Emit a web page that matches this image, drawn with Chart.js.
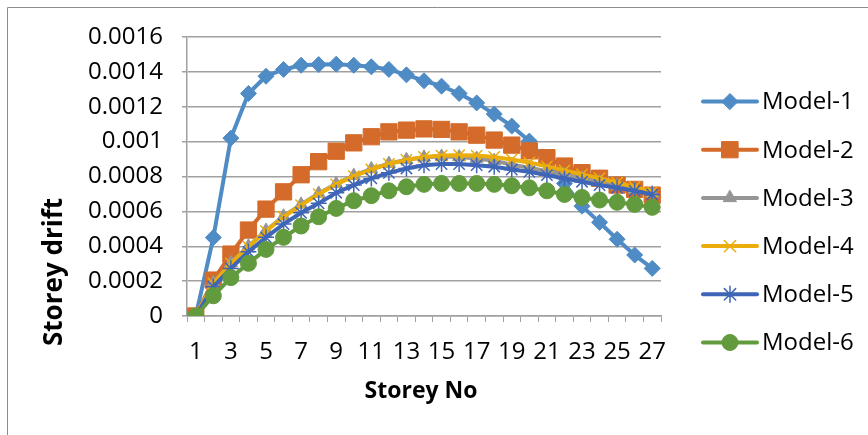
<!DOCTYPE html>
<html>
<head>
<meta charset="utf-8">
<script src="https://cdn.jsdelivr.net/npm/chart.js@4.4.1/dist/chart.umd.min.js"></script>
<style>
  html, body { margin: 0; padding: 0; background: #ffffff; }
  #wrap { position: relative; width: 868px; height: 435px; }
</style>
</head>
<body>
<div id="wrap"><canvas id="c" width="868" height="435"></canvas></div>
<script>
const storeys = ['1','2','3','4','5','6','7','8','9','10','11','12','13','14','15','16','17','18','19','20','21','22','23','24','25','26','27'];

const model1 = [0, 0.00045, 0.00102, 0.001276, 0.001375, 0.001414, 0.001438, 0.001442, 0.001444, 0.001438, 0.001429, 0.001414, 0.001383, 0.001349, 0.001318, 0.001276, 0.001222, 0.001158, 0.001089, 0.001003, 0.00088, 0.00076, 0.00063, 0.000537, 0.00044, 0.00035, 0.000273];
const model2 = [0, 0.000206, 0.000355, 0.000493, 0.000613, 0.000712, 0.00081, 0.000885, 0.000945, 0.000993, 0.001028, 0.001056, 0.001066, 0.001073, 0.00107, 0.001056, 0.001037, 0.001009, 0.00098, 0.000947, 0.000908, 0.00086, 0.000822, 0.00079, 0.000751, 0.000726, 0.000693];
const model3 = [0, 0.00019, 0.000305, 0.0004, 0.00049, 0.000572, 0.00064, 0.000703, 0.000758, 0.000805, 0.000843, 0.000874, 0.000896, 0.00091, 0.000915, 0.000912, 0.000903, 0.00089, 0.000868, 0.00085, 0.00083, 0.00081, 0.00079, 0.00077, 0.000748, 0.000725, 0.000705];
const model4 = [0, 0.000187, 0.000302, 0.000397, 0.000487, 0.000569, 0.000636, 0.000699, 0.000755, 0.000802, 0.00084, 0.000872, 0.000895, 0.000912, 0.00092, 0.000922, 0.00092, 0.000912, 0.000898, 0.00088, 0.000858, 0.000835, 0.000812, 0.00079, 0.000765, 0.00074, 0.000712];
const model5 = [0, 0.000168, 0.000273, 0.000368, 0.000451, 0.000527, 0.000592, 0.000646, 0.000707, 0.000751, 0.000789, 0.000821, 0.000846, 0.000865, 0.000871, 0.000871, 0.000865, 0.000856, 0.00084, 0.000827, 0.000808, 0.000789, 0.00077, 0.000751, 0.000735, 0.000718, 0.000697];
const model6 = [0, 0.000116, 0.00022, 0.000302, 0.000382, 0.000451, 0.000516, 0.000569, 0.000617, 0.000661, 0.00069, 0.000718, 0.000741, 0.000755, 0.00076, 0.00076, 0.00076, 0.000755, 0.000747, 0.000735, 0.000718, 0.000697, 0.00068, 0.000665, 0.000652, 0.00064, 0.000623];

const seriesNames = ['Model-1','Model-2','Model-3','Model-4','Model-5','Model-6'];
const yTickValues = [0, 0.0002, 0.0004, 0.0006, 0.0008, 0.001, 0.0012, 0.0014, 0.0016];
const xTitle = 'Storey No';
const yTitle = 'Storey drift';

const FONT = "'Open Sans', 'Noto Sans', sans-serif";

const styles = [
  { color: '#4F8BC4', point: 'rectRot', radius: 8, bw: 1 },
  { color: '#D46B2A', point: 'rect', radius: 11.5, bw: 1 },
  { color: '#959595', point: 'triangle', radius: 7.5, bw: 1 },
  { color: '#EAAD0C', point: 'crossRot', radius: 8, bw: 1.5 },
  { color: '#3F66B6', point: 'star', radius: 8, bw: 1.5 },
  { color: '#629B3E', point: 'circle', radius: 8, bw: 1 }
];
const allData = [model1, model2, model3, model4, model5, model6];

const datasets = allData.map((d, i) => ({
  label: seriesNames[i],
  data: d,
  borderColor: styles[i].color,
  backgroundColor: styles[i].color,
  borderWidth: 4,
  pointStyle: styles[i].point,
  pointRadius: styles[i].radius,
  pointBackgroundColor: styles[i].color,
  pointBorderColor: styles[i].color,
  pointBorderWidth: styles[i].bw,
  tension: 0,
  order: 6 - i
}));

const customPlugin = {
  id: 'custom',
  beforeDraw(chart) {
    const ctx = chart.ctx;
    ctx.save();
    ctx.strokeStyle = '#8c8c8c';
    ctx.lineWidth = 1;
    ctx.beginPath();
    ctx.moveTo(7.5, 435);
    ctx.lineTo(7.5, 7.5);
    ctx.lineTo(868, 7.5);
    ctx.stroke();
    ctx.restore();
  },
  afterDraw(chart) {
    const ctx = chart.ctx;
    const area = chart.chartArea;
    ctx.save();
    ctx.fillStyle = '#000000';
    ctx.textAlign = 'center';
    ctx.textBaseline = 'middle';
    ctx.font = "bold 23px " + FONT;
    ctx.fillText(xTitle, (area.left + area.right) / 2 - 3, 391);
    ctx.save();
    ctx.translate(55, 272);
    ctx.rotate(-Math.PI / 2);
    ctx.font = "bold 26px " + FONT;
    ctx.fillText(yTitle, 0, 0);
    ctx.restore();
    const x0 = 703, x1 = 757, tx = 762;
    chart.data.datasets.forEach((ds, i) => {
      const y = 101.5 + 48.2 * i;
      ctx.strokeStyle = ds.borderColor;
      ctx.lineWidth = ds.borderWidth;
      ctx.lineCap = 'round';
      ctx.beginPath();
      ctx.moveTo(x0, y);
      ctx.lineTo(x1, y);
      ctx.stroke();
      ctx.fillStyle = ds.pointBackgroundColor;
      ctx.strokeStyle = ds.pointBorderColor;
      ctx.lineWidth = ds.pointBorderWidth;
      Chart.helpers.drawPoint(ctx, { pointStyle: ds.pointStyle, radius: ds.pointRadius, borderWidth: ds.pointBorderWidth, rotation: 0 }, (x0 + x1) / 2, y);
      ctx.fillStyle = '#000000';
      ctx.textAlign = 'left';
      ctx.textBaseline = 'middle';
      ctx.font = "24px " + FONT;
      ctx.fillText(ds.label, tx, y + 1);
    });
    ctx.restore();
  }
};

new Chart(document.getElementById('c'), {
  type: 'line',
  data: { labels: storeys, datasets: datasets },
  options: {
    responsive: false,
    animation: false,
    devicePixelRatio: 1,
    layout: { padding: { left: 0, top: 37, right: 207, bottom: 0 } },
    plugins: { legend: { display: false }, tooltip: { enabled: false }, title: { display: false } },
    scales: {
      x: {
        type: 'category',
        offset: true,
        afterFit(scale) { scale.height = 119; },
        grid: { display: true, drawOnChartArea: false, drawTicks: true, tickLength: 6, offset: true, color: '#a0a0a0', lineWidth: 1 },
        border: { display: true, color: '#a0a0a0', width: 1.5 },
        ticks: {
          autoSkip: false, maxRotation: 0, minRotation: 0, padding: 16,
          color: '#000000', font: { family: FONT, size: 24 },
          callback(v, i) { return i % 2 === 0 ? storeys[i] : ''; }
        }
      },
      y: {
        min: 0, max: 0.0016,
        afterFit(scale) { scale.width = 187; },
        afterBuildTicks(scale) { scale.ticks = yTickValues.map(v => ({ value: v })); },
        grid: { color: '#a0a0a0', lineWidth: 1.5, drawTicks: true, tickLength: 5 },
        border: { display: true, color: '#a0a0a0', width: 1.5 },
        ticks: {
          padding: 19, color: '#000000', font: { family: FONT, size: 24 },
          callback(v) { return String(parseFloat(Number(v).toFixed(4))); }
        }
      }
    }
  },
  plugins: [customPlugin]
});
</script>
</body>
</html>
